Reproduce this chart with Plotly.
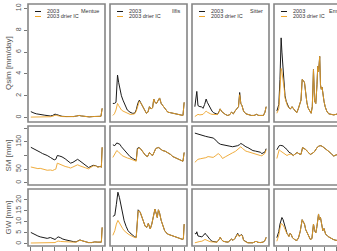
import plotly.graph_objects as go

W, H = 337, 251
catchments = ["Mentue", "Ilfis", "Sitter", "Emme"]
series_names = ["2003", "2003 drier IC"]
row_titles = ["Qsim [mm/day]", "SM [mm]", "GW [mm]"]
month_ticks = [0, 31, 61, 92, 122, 153, 183]   # days since 1 May 2003

# ---------------- Mentue ----------------
mentue_q_day = [0, 4, 8, 14, 20, 28, 36, 44, 50, 56, 62, 66, 72, 80, 90, 100, 110, 118, 124, 130, 140, 150, 160, 170, 176, 180, 183]
mentue_q_2003 = [0.55, 0.45, 0.42, 0.35, 0.3, 0.28, 0.22, 0.18, 0.15, 0.2, 0.32, 0.28, 0.2, 0.12, 0.1, 0.08, 0.1, 0.15, 0.2, 0.15, 0.1, 0.07, 0.1, 0.08, 0.1, 0.12, 0.85]
mentue_q_drier = [0.05, 0.05, 0.05, 0.06, 0.06, 0.06, 0.07, 0.08, 0.08, 0.12, 0.22, 0.2, 0.15, 0.1, 0.09, 0.08, 0.1, 0.15, 0.2, 0.15, 0.1, 0.07, 0.1, 0.08, 0.1, 0.12, 0.85]
mentue_sm_day = [0, 6, 12, 18, 24, 30, 36, 42, 50, 56, 60, 64, 68, 74, 80, 88, 96, 102, 108, 114, 120, 126, 132, 140, 148, 154, 160, 166, 172, 178, 181, 183]
mentue_sm_2003 = [130, 126, 120, 117, 112, 107, 104, 100, 93, 89, 84, 86, 100, 98, 95, 88, 80, 72, 75, 80, 86, 80, 73, 63, 56, 60, 64, 63, 58, 60, 57, 130]
mentue_sm_drier = [58, 56, 55, 52, 53, 50, 48, 46, 47, 45, 48, 50, 72, 68, 64, 60, 57, 54, 58, 62, 66, 62, 58, 55, 51, 56, 62, 62, 57, 60, 57, 130]
mentue_gw_day = [0, 6, 12, 18, 24, 30, 36, 42, 50, 56, 62, 66, 70, 76, 82, 90, 98, 104, 110, 116, 122, 126, 132, 140, 148, 156, 164, 172, 178, 181, 183]
mentue_gw_2003 = [5.2, 4.6, 4.2, 3.6, 3.2, 2.9, 2.6, 2.5, 2.9, 2.3, 2.0, 2.6, 3.2, 2.8, 2.2, 1.8, 1.4, 1.2, 1.0, 0.9, 1.4, 1.8, 1.4, 1.0, 0.6, 0.6, 0.9, 0.8, 0.7, 0.8, 7.5]
mentue_gw_drier = [0.4, 0.4, 0.4, 0.4, 0.4, 0.4, 0.4, 0.4, 0.5, 0.5, 0.6, 1.0, 1.3, 1.1, 1.0, 0.9, 0.8, 0.8, 0.8, 0.8, 1.3, 1.7, 1.4, 1.0, 0.6, 0.6, 0.9, 0.8, 0.7, 0.8, 7.5]

# ---------------- Ilfis ----------------
ilfis_q_day = [0, 4, 8, 10, 12, 15, 18, 22, 26, 31, 37, 44, 50, 56, 60, 64, 68, 71, 74, 78, 82, 86, 90, 94, 98, 102, 105, 108, 112, 116, 120, 124, 128, 134, 141, 148, 154, 160, 167, 174, 180, 183]
ilfis_q_2003 = [1.3, 1.3, 1.4, 2.8, 3.9, 3.2, 2.6, 2.0, 1.6, 1.1, 0.7, 0.5, 0.4, 0.4, 0.7, 1.3, 1.6, 1.4, 1.2, 0.9, 0.6, 0.4, 0.5, 1.0, 0.8, 0.9, 1.7, 1.4, 1.3, 1.5, 1.8, 1.3, 1.1, 0.8, 0.5, 0.45, 0.4, 0.35, 0.3, 0.25, 0.2, 1.4]
ilfis_q_drier = [0.2, 0.35, 0.7, 1.1, 1.3, 1.1, 0.9, 0.7, 0.6, 0.5, 0.4, 0.3, 0.3, 0.35, 0.6, 1.2, 1.5, 1.4, 1.2, 0.9, 0.6, 0.4, 0.5, 1.0, 0.8, 0.9, 1.7, 1.4, 1.3, 1.5, 1.8, 1.3, 1.1, 0.8, 0.5, 0.45, 0.4, 0.35, 0.3, 0.25, 0.2, 1.4]
ilfis_sm_day = [0, 5, 10, 14, 18, 22, 26, 31, 37, 44, 50, 56, 60, 63, 67, 71, 75, 79, 84, 89, 94, 98, 102, 106, 110, 114, 118, 122, 128, 134, 141, 148, 154, 160, 167, 174, 180, 183]
ilfis_sm_2003 = [139, 136, 146, 143, 141, 132, 125, 116, 107, 96, 90, 84, 82, 126, 129, 125, 116, 107, 100, 96, 111, 104, 100, 112, 125, 128, 129, 124, 118, 116, 111, 104, 96, 92, 86, 82, 79, 111]
ilfis_sm_drier = [93, 105, 118, 114, 107, 102, 98, 94, 91, 88, 84, 80, 79, 122, 128, 125, 116, 107, 100, 96, 111, 104, 100, 112, 125, 128, 129, 124, 118, 116, 111, 104, 96, 92, 86, 82, 79, 111]
ilfis_gw_day = [0, 5, 9, 13, 17, 21, 25, 29, 34, 39, 44, 50, 56, 60, 65, 70, 74, 78, 83, 87, 91, 96, 100, 104, 108, 111, 114, 117, 120, 124, 128, 133, 140, 148, 156, 164, 172, 178, 181, 183]
ilfis_gw_2003 = [12.5, 13, 18, 23.5, 21, 17, 13.5, 10.5, 8, 6, 5, 4, 3.2, 3.0, 15.5, 14.5, 12, 10.5, 8, 7.5, 9.3, 6.8, 9, 13, 15.8, 14, 12, 15.5, 14, 10.7, 8.5, 6, 4.5, 4, 3.4, 3, 2.5, 2.1, 2.2, 9]
ilfis_gw_drier = [3.9, 6, 9, 10.7, 9.5, 8, 7, 6, 5, 4.5, 4, 3.4, 2.9, 2.8, 15, 14.5, 12, 10.5, 8, 7.5, 9.3, 6.8, 9, 13, 15.8, 14, 12, 15.5, 14, 10.7, 8.5, 6, 4.5, 4, 3.4, 3, 2.5, 2.1, 2.2, 9]

# ---------------- Sitter ----------------
sitter_q_day = [0, 3, 5, 8, 13, 17, 21, 25, 29, 32, 36, 40, 44, 48, 53, 58, 62, 65, 69, 73, 78, 84, 89, 94, 99, 103, 106, 109, 112, 115, 118, 121, 125, 131, 138, 145, 152, 158, 164, 170, 176, 180, 183]
sitter_q_2003 = [1.0, 1.8, 2.4, 1.1, 1.0, 1.0, 0.85, 1.2, 1.7, 1.4, 1.1, 0.9, 0.6, 0.45, 0.35, 0.3, 0.55, 0.8, 0.55, 0.4, 0.3, 0.2, 0.25, 0.5, 0.35, 0.6, 0.75, 0.9, 1.0, 2.3, 1.3, 1.1, 0.6, 0.35, 0.25, 0.2, 0.2, 0.3, 0.2, 0.22, 0.2, 0.5, 1.0]
sitter_q_drier = [0.1, 0.2, 0.25, 0.3, 0.25, 0.25, 0.3, 0.45, 0.6, 0.5, 0.4, 0.35, 0.3, 0.3, 0.3, 0.28, 0.5, 0.8, 0.55, 0.4, 0.3, 0.2, 0.25, 0.5, 0.35, 0.6, 0.75, 0.9, 1.0, 2.1, 1.3, 1.1, 0.6, 0.35, 0.25, 0.2, 0.2, 0.3, 0.2, 0.22, 0.2, 0.5, 1.0]
sitter_sm_day = [0, 4, 8, 14, 21, 28, 34, 40, 47, 54, 60, 66, 71, 78, 84, 90, 97, 104, 110, 115, 118, 122, 126, 131, 136, 142, 149, 156, 162, 168, 172, 176, 180, 183]
sitter_sm_2003 = [182, 180, 179, 175, 171, 170, 168, 166, 164, 156, 146, 141, 139, 138, 136, 134, 132, 134, 136, 140, 144, 141, 136, 132, 129, 124, 118, 116, 114, 112, 107, 109, 113, 125]
sitter_sm_drier = [75, 80, 86, 88, 89, 92, 96, 94, 93, 100, 107, 100, 89, 95, 100, 107, 110, 115, 121, 128, 132, 126, 121, 116, 114, 111, 107, 104, 102, 100, 99, 102, 108, 121]
sitter_gw_day = [0, 3, 5, 8, 13, 18, 23, 26, 29, 34, 39, 44, 50, 57, 62, 65, 69, 73, 80, 86, 91, 94, 98, 103, 107, 110, 112, 115, 119, 122, 125, 130, 136, 142, 149, 157, 162, 168, 175, 180, 183]
sitter_gw_2003 = [4.8, 4.5, 5.5, 3.6, 3.4, 3.2, 4.0, 4.8, 4.3, 3.0, 2.0, 1.2, 0.9, 0.8, 2.0, 3.0, 1.8, 1.2, 0.9, 0.8, 1.8, 2.2, 1.6, 2.5, 3.9, 4.8, 3.8, 3.6, 4.3, 3.8, 1.7, 1.0, 0.5, 0.5, 0.5, 1.2, 0.7, 0.6, 0.8, 1.5, 3.0]
sitter_gw_drier = [0.5, 0.7, 0.9, 1.0, 1.1, 1.2, 1.5, 2.0, 1.8, 1.2, 1.0, 0.9, 0.8, 0.8, 2.0, 3.0, 1.8, 1.2, 0.9, 0.8, 1.8, 2.2, 1.6, 2.5, 3.6, 4.5, 3.6, 3.4, 4.1, 3.6, 1.7, 1.0, 0.5, 0.5, 0.5, 1.2, 0.7, 0.6, 0.8, 1.5, 3.0]

# ---------------- Emme ----------------
emme_q_day = [0, 3, 5, 8, 11, 13, 16, 19, 21, 24, 27, 31, 35, 39, 43, 47, 51, 55, 59, 62, 65, 68, 71, 74, 77, 80, 84, 88, 91, 94, 97, 100, 103, 105, 107, 110, 112, 114, 116, 118, 121, 124, 128, 133, 139, 146, 152, 158, 165, 172, 178, 183]
emme_q_2003 = [0.6, 1.0, 1.2, 3.5, 7.3, 6.0, 4.5, 3.0, 2.0, 1.5, 1.2, 0.9, 0.8, 1.0, 0.8, 0.6, 0.45, 0.8, 1.2, 1.6, 3.5, 3.4, 3.2, 2.2, 1.4, 0.9, 0.6, 0.4, 1.0, 4.4, 1.5, 1.3, 3.0, 4.7, 4.2, 5.6, 3.0, 2.6, 2.8, 2.0, 1.5, 1.0, 0.6, 0.35, 0.3, 0.25, 0.3, 0.4, 0.5, 0.6, 0.7, 1.0]
emme_q_drier = [0.4, 0.6, 0.8, 2.5, 4.5, 4.2, 3.5, 2.6, 1.8, 1.4, 1.1, 0.9, 0.8, 1.0, 0.8, 0.6, 0.45, 0.8, 1.2, 1.6, 3.5, 3.4, 3.2, 2.2, 1.4, 0.9, 0.6, 0.4, 1.0, 4.4, 1.5, 1.3, 3.0, 4.7, 4.2, 5.6, 3.0, 2.6, 2.8, 2.0, 1.5, 1.0, 0.6, 0.35, 0.3, 0.25, 0.3, 0.4, 0.5, 0.6, 0.7, 1.0]
emme_sm_day = [0, 3, 6, 10, 16, 21, 26, 31, 36, 42, 47, 52, 57, 62, 66, 70, 75, 80, 86, 91, 96, 101, 105, 109, 113, 118, 123, 128, 134, 140, 146, 152, 158, 166, 174, 183]
emme_sm_2003 = [121, 128, 136, 137, 135, 128, 122, 112, 108, 100, 104, 111, 106, 104, 129, 126, 121, 112, 104, 108, 113, 124, 132, 135, 136, 132, 127, 120, 114, 106, 98, 102, 104, 100, 97, 95]
emme_sm_drier = [89, 105, 121, 116, 111, 105, 100, 104, 105, 100, 104, 111, 106, 104, 129, 126, 121, 112, 104, 108, 113, 124, 132, 135, 136, 132, 127, 120, 114, 106, 98, 102, 104, 100, 97, 95]
emme_gw_day = [0, 3, 5, 8, 11, 13, 16, 19, 21, 24, 26, 29, 31, 34, 37, 40, 43, 47, 52, 56, 60, 63, 65, 68, 71, 74, 78, 82, 86, 90, 94, 97, 100, 103, 107, 109, 112, 115, 118, 121, 125, 131, 138, 145, 152, 160, 170, 178, 183]
emme_gw_2003 = [2.8, 4.0, 5.6, 9.0, 11.5, 12.0, 11.0, 9.0, 7.4, 6.0, 4.8, 4.0, 3.4, 4.8, 4.2, 2.8, 2.2, 1.8, 1.6, 3.0, 5.7, 9.0, 11.0, 10.0, 9.0, 6.5, 4.8, 3.0, 2.0, 2.4, 9.0, 6.0, 5.0, 8.0, 13.6, 11.0, 12.0, 9.0, 6.0, 7.0, 4.5, 3.4, 2.5, 2.0, 1.6, 1.5, 1.5, 1.7, 2.0]
emme_gw_drier = [1.2, 2.5, 4.0, 7.0, 9.3, 9.0, 8.5, 7.5, 6.5, 5.5, 4.6, 3.9, 3.3, 4.8, 4.2, 2.8, 2.2, 1.8, 1.6, 3.0, 5.7, 9.0, 11.0, 10.0, 9.0, 6.5, 4.8, 3.0, 2.0, 2.4, 9.0, 6.0, 5.0, 8.0, 13.6, 11.0, 12.0, 9.0, 6.0, 7.0, 4.5, 3.4, 2.5, 2.0, 1.6, 1.5, 1.5, 1.7, 2.0]

panels = [
    [(mentue_q_day, mentue_q_2003, mentue_q_drier), (ilfis_q_day, ilfis_q_2003, ilfis_q_drier),
     (sitter_q_day, sitter_q_2003, sitter_q_drier), (emme_q_day, emme_q_2003, emme_q_drier)],
    [(mentue_sm_day, mentue_sm_2003, mentue_sm_drier), (ilfis_sm_day, ilfis_sm_2003, ilfis_sm_drier),
     (sitter_sm_day, sitter_sm_2003, sitter_sm_drier), (emme_sm_day, emme_sm_2003, emme_sm_drier)],
    [(mentue_gw_day, mentue_gw_2003, mentue_gw_drier), (ilfis_gw_day, ilfis_gw_2003, ilfis_gw_drier),
     (sitter_gw_day, sitter_gw_2003, sitter_gw_drier), (emme_gw_day, emme_gw_2003, emme_gw_drier)],
]

y_limits = [(0, 10), (0, 200), (0, 24)]
y_ticks = [[0, 2, 4, 6, 8, 10], [0, 50, 100, 150, 200], [0, 5, 10, 15, 20]]
y_ticktext = [["0", "2", "4", "6", "8", "10"], ["0", "50", "", "150", ""], ["0", "5", "10", "15", "20"]]
x_limits = (0, 183)

# ---------------- layout geometry (pixels) ----------------
col_left = [28, 110, 192, 274]
panel_w = 77
row_top = [4, 126, 189]
row_bot = [122, 185, 246]

BLACK = "#1a1a1a"
ORANGE = "#EFA52A"
BORDER = "#858585"
FONT = "Liberation Sans, Arial, sans-serif"

def ext(lo, hi):
    d = (hi - lo) * 0.04
    return lo - d, hi + d

fig = go.Figure()
layout = dict(width=W, height=H, margin=dict(l=0, r=0, t=0, b=0),
              paper_bgcolor="white", plot_bgcolor="white", showlegend=False,
              font=dict(family=FONT, size=7, color="#555"))
shapes = []
annotations = []

xr0, xr1 = ext(*x_limits)
days_per_px = (xr1 - xr0) / panel_w

for r in range(3):
    for c in range(4):
        p = r * 4 + c
        xa = "x" if p == 0 else f"x{p+1}"
        ya = "y" if p == 0 else f"y{p+1}"
        xkey = "xaxis" if p == 0 else f"xaxis{p+1}"
        ykey = "yaxis" if p == 0 else f"yaxis{p+1}"
        L = col_left[c]
        R = min(L + panel_w, W)
        xrange = [xr0, xr0 + (R - L) * days_per_px]
        layout[xkey] = dict(domain=[L / W, R / W], range=xrange, anchor=ya,
                            showgrid=False, zeroline=False, showline=False,
                            showticklabels=False,
                            ticks="outside" if r == 2 else "",
                            tickvals=month_ticks, ticklen=4, tickwidth=1, tickcolor="#777")
        y0p = 1 - row_bot[r] / H
        y1p = 1 - row_top[r] / H
        layout[ykey] = dict(domain=[y0p, y1p], range=list(ext(*y_limits[r])), anchor=xa,
                            showgrid=False, zeroline=False, showline=False,
                            showticklabels=(c == 0), ticks="outside" if c == 0 else "",
                            tickvals=y_ticks[r], ticktext=y_ticktext[r],
                            ticklen=3, tickwidth=1, tickcolor="#777", tickangle=-90,
                            tickfont=dict(size=7, color="#555"))
        d, s1, s2 = panels[r][c]
        fig.add_trace(go.Scatter(x=d, y=s1, mode="lines", xaxis=xa, yaxis=ya,
                                 line=dict(color=BLACK, width=1), name=series_names[0]))
        fig.add_trace(go.Scatter(x=d, y=s2, mode="lines", xaxis=xa, yaxis=ya,
                                 line=dict(color=ORANGE, width=1), opacity=0.9, name=series_names[1]))
        # box
        shapes.append(dict(type="rect", xref="paper", yref="paper",
                           x0=L / W, x1=(L + panel_w) / W, y0=y0p, y1=y1p,
                           line=dict(color=BORDER, width=1.6)))

# legends + catchment names in the top row
for c in range(4):
    L = col_left[c]
    for i, (txt, col) in enumerate(zip(series_names, [BLACK, ORANGE])):
        yy = 1 - (11.5 + 5 * i) / H
        shapes.append(dict(type="line", xref="paper", yref="paper",
                           x0=(L + 7) / W, x1=(L + 13) / W, y0=yy, y1=yy,
                           line=dict(color=col, width=1)))
        annotations.append(dict(text=txt, xref="paper", yref="paper", x=(L + 17) / W, y=yy,
                                xanchor="left", yanchor="middle", showarrow=False,
                                font=dict(size=5.5, color="#333", family=FONT)))
    annotations.append(dict(text=catchments[c], xref="paper", yref="paper",
                            x=(L + panel_w - 4) / W, y=1 - 11.5 / H,
                            xanchor="right", yanchor="middle", showarrow=False,
                            font=dict(size=5.5, color="#333", family=FONT)))

for r in range(3):
    yc = 1 - (row_top[r] + row_bot[r]) / 2 / H
    annotations.append(dict(text=row_titles[r], xref="paper", yref="paper", x=8 / W, y=yc,
                            xanchor="center", yanchor="middle", textangle=-90, showarrow=False,
                            font=dict(size=8, color="#555", family=FONT)))

layout["shapes"] = shapes
layout["annotations"] = annotations
fig.update_layout(**layout)
fig.write_html("out.html")
